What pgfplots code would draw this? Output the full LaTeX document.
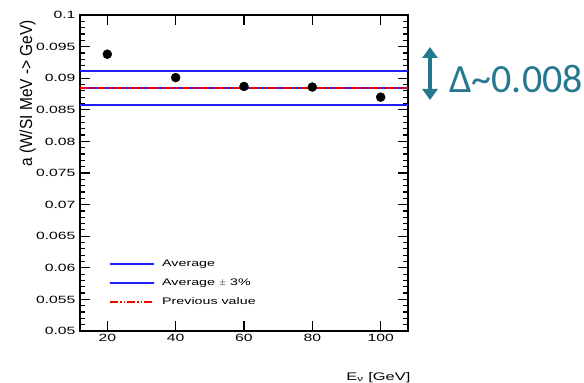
\documentclass[border=0pt]{standalone}
\usepackage{graphicx}
\usepackage{pgfplots}
\pgfplotsset{compat=1.18}
\usepackage{fontspec}
\setmainfont{Liberation Sans}
\newfontfamily\wide[FakeStretch=1.5]{Liberation Sans}
\newfontfamily\calib{Carlito}
\usetikzlibrary{arrows.meta}
\definecolor{teal1}{RGB}{38,120,145}
\definecolor{lblue}{RGB}{30,30,255}
\begin{document}
\begin{tikzpicture}
\useasboundingbox (0pt,0pt) rectangle (584pt,383pt);
\begin{axis}[
  at={(80pt,52pt)}, anchor=south west,
  scale only axis, width=328pt, height=316pt,
  xmin=12, xmax=108, ymin=0.05, ymax=0.1,
  xtick={20,40,60,80,100},
  ytick={0.05,0.055,0.06,0.065,0.07,0.075,0.08,0.085,0.09,0.095,0.1},
  minor y tick num=4,
  tick align=inside,
  major tick length=10pt, minor tick length=5pt,
  axis line style={line width=1.6pt},
  every tick/.style={line width=1.2pt},
  tick label style={font=\wide\fontsize{10.5}{12}\selectfont},
  yticklabel style={xshift=-1pt},
  /pgf/number format/assume math mode=true,
  /pgf/number format/fixed,
  /pgf/number format/precision=3,
  xlabel={E\textsubscript{ν} [GeV]},
  xlabel style={at={(axis description cs:1,0)}, anchor=base east, yshift=-49pt, xshift=6pt, font=\wide\fontsize{11}{12}\selectfont},
  ylabel={\scalebox{1}[1.12]{\fontsize{15.5}{17}\selectfont a (W/SI MeV -> GeV)}},
  ylabel style={at={(axis description cs:-0.16,0.752)}, anchor=center},
  legend style={at={(axis description cs:0.08,0.237)}, anchor=north west, draw=none, fill=none,
    font=\wide\fontsize{9.5}{11}\selectfont, row sep=6.8pt},
  legend cell align=left,
  legend image code/.code={\draw[#1] (0pt,0pt) -- (44pt,0pt); \path (49pt,0pt);},
  clip=true,
]
\addplot[draw=lblue, line width=1.8pt] coordinates {(12,0.0884) (108,0.0884)};
\addlegendentry{Average}
\addplot[draw=lblue, line width=1.8pt] coordinates {(12,0.0911) (108,0.0911)};
\addlegendentry{Average $\pm$ 3\%}
\addplot[draw=red, line width=1.8pt, dash pattern=on 8pt off 2pt on 1.5pt off 2pt on 1.5pt off 2pt] coordinates {(12,0.0884) (108,0.0884)};
\addlegendentry{Previous value}
\addplot[draw=lblue, line width=1.8pt, forget plot] coordinates {(12,0.0857) (108,0.0857)};
\addplot[only marks, mark=*, mark size=4.5pt, black, forget plot] coordinates {
  (20,0.0938) (40,0.0901) (60,0.0887) (80,0.0886) (100,0.0870)};
\end{axis}
\draw[teal1, line width=4.5pt, {Triangle[width=15pt,length=11pt]}-{Triangle[width=15pt,length=11pt]}] (430pt,336pt) -- (430pt,283pt);
\node[anchor=base west, text=teal1, font=\calib\fontsize{40}{44}\selectfont, inner sep=0pt] at (449pt,290pt) {Δ\textasciitilde 0.008};
\end{tikzpicture}
\end{document}
